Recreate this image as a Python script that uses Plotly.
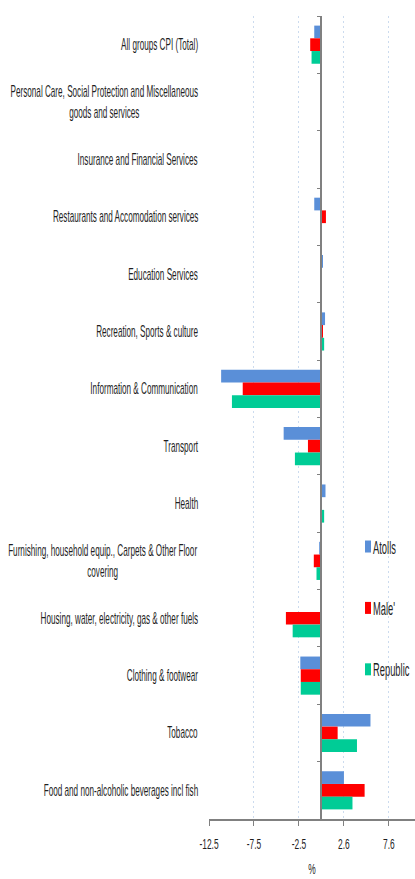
import plotly.graph_objects as go

categories = [
    "All groups CPI (Total)",
    "Personal Care, Social Protection and Miscellaneous<br>goods and services",
    "Insurance and Financial Services",
    "Restaurants and Accomodation services",
    "Education Services",
    "Recreation, Sports & culture",
    "Information & Communication",
    "Transport",
    "Health",
    "Furnishing, household equip., Carpets & Other Floor<br>covering",
    "Housing, water, electricity, gas & other fuels",
    "Clothing & footwear",
    "Tobacco",
    "Food and non-alcoholic beverages incl fish",
]
atolls = [-0.8, -0.15, 0.0, -0.8, 0.12, 0.4, -11.15, -4.2, 0.45, -0.25, -0.1, -2.35, 5.45, 2.5]
male = [-1.25, -0.1, 0.0, 0.5, 0.0, 0.15, -8.75, -1.5, 0.05, -0.85, -3.95, -2.3, 1.8, 4.8]
republic = [-1.1, -0.12, 0.0, 0.0, 0.0, 0.3, -9.95, -2.95, 0.3, -0.55, -3.2, -2.3, 3.95, 3.45]

series_names = ["Atolls", "Male'", "Republic"]
series_colors = ["#5A8FD8", "#FF0000", "#00CC96"]

tick_vals = [-12.5, -7.5, -2.5, 2.5, 7.5]
tick_text = ["-12.5", "-7.5", "-2.5", "2.6", "7.6"]
x_range = [-12.5, 10.4]

FONT = "Liberation Sans, Arial, sans-serif"
TXT = "#1F1F1F"

fig = go.Figure()
for name, vals, col in zip(series_names, [atolls, male, republic], series_colors):
    fig.add_trace(go.Bar(
        y=categories, x=vals, name=name, orientation="h",
        marker=dict(color=col, line=dict(width=0)),
        legendgroup=name,
    ))

for c in categories:
    fig.add_annotation(
        x=-0.044, xref="paper", y=c, yref="y", text=c, showarrow=False,
        xanchor="right", align="center", font=dict(family=FONT, size=16, color=TXT),
    )

zero_pos = (0 - x_range[0]) / (x_range[1] - x_range[0])

fig.update_layout(
    width=415, height=879,
    margin=dict(l=209, r=0, t=16, b=60, autoexpand=False),
    paper_bgcolor="white", plot_bgcolor="white",
    barmode="group", bargap=0.335, bargroupgap=0,
    font=dict(family=FONT, size=15, color=TXT),
    showlegend=True,
    legend=dict(
        x=0.67, y=0.362, xanchor="left", yanchor="top",
        traceorder="grouped", tracegroupgap=35,
        font=dict(family=FONT, size=18, color=TXT),
        bgcolor="rgba(0,0,0,0)", itemwidth=30,
    ),
    xaxis=dict(
        range=x_range, domain=[0, 1],
        tickvals=tick_vals, ticktext=tick_text,
        showgrid=True, gridcolor="#CCDBEE", griddash="2px,3px", gridwidth=1,
        zeroline=False,
        showline=True, linecolor="#808080", linewidth=1.5,
        ticks="outside", ticklen=5, tickcolor="#808080",
        ticklabelstandoff=5,
        tickfont=dict(family=FONT, size=15, color=TXT),
        title=dict(text="%", standoff=13, font=dict(family=FONT, size=15, color=TXT)),
    ),
    yaxis=dict(
        categoryorder="array", categoryarray=categories,
        autorange="reversed",
        anchor="free", position=zero_pos,
        showline=True, linecolor="#808080", linewidth=1.5,
        ticks="outside", tickson="boundaries", ticklen=4, tickcolor="#808080",
        showticklabels=False, showgrid=False, zeroline=False,
    ),
)

post_js = """
document.body.style.margin = '0';
var gd = document.getElementById('{plot_id}');
function sq(sel, s, mode, dx){
  gd.querySelectorAll(sel).forEach(function(el){
    if (el.getAttribute('data-sq')) return;
    var b = el.getBBox();
    var ox = mode === 'r' ? b.x + b.width : (mode === 'l' ? b.x : b.x + b.width / 2);
    var t = el.getAttribute('transform') || '';
    el.setAttribute('transform', t + ' translate(' + (ox + dx) + ',0) scale(' + s + ',1) translate(' + (-ox) + ',0)');
    el.setAttribute('data-sq', '1');
  });
}
sq('.annotation-text', 0.51, 'r', 0);
sq('.xtick text', 0.56, 'c', 0);
sq('.xtitle', 0.56, 'c', 0);
sq('.legendtext', 0.52, 'l', -14);
sq('.legend .legendpoints path', 0.5, 'c', 1);
gd.querySelectorAll('.legend [clip-path]').forEach(function(el){ el.removeAttribute('clip-path'); });
"""

fig.write_html("out.html", post_script=post_js, config={"displayModeBar": False})
